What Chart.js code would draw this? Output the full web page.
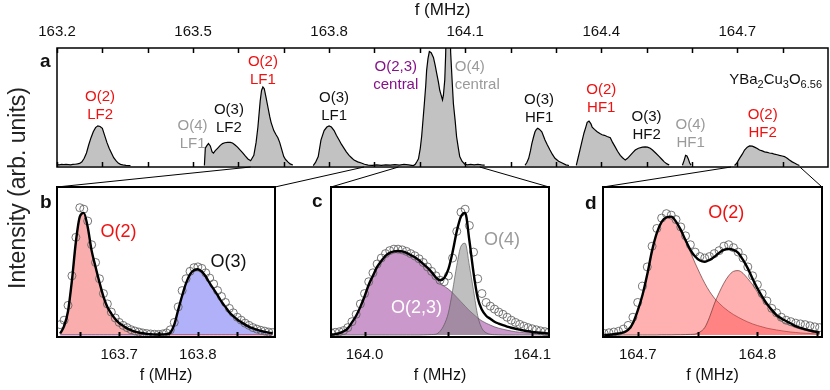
<!DOCTYPE html>
<html>
<head>
<meta charset="utf-8">
<script src="https://cdn.jsdelivr.net/npm/chart.js@4.4.1/dist/chart.umd.min.js"></script>
<style>
  html, body { margin: 0; padding: 0; background: #fff; }
  #wrap { position: relative; width: 830px; height: 390px; overflow: hidden; font-family: "Liberation Sans", Arial, sans-serif; color: #111; }
  #wrap canvas { position: absolute; }
  .ytitle { position: absolute; left: 17px; top: 188px; transform: translate(-50%, -50%) rotate(-90deg); font-size: 23px; white-space: nowrap; color: #222; }
  .letter { position: absolute; font-weight: bold; font-size: 19px; line-height: 19px; }
</style>
</head>
<body>
<div id="wrap">
  <canvas id="topChart" style="left:0;top:0" width="830" height="180"></canvas>
  <canvas id="bChart" style="left:0;top:180px" width="290" height="210"></canvas>
  <canvas id="cChart" style="left:290px;top:180px" width="290" height="210"></canvas>
  <canvas id="dChart" style="left:580px;top:180px" width="250" height="210"></canvas>
  <canvas id="links" style="left:0;top:0;pointer-events:none" width="830" height="390"></canvas>
  <div class="ytitle">Intensity (arb. units)</div>
  <div class="letter" style="left:40px;top:51px">a</div>
  <div class="letter" style="left:40px;top:192px">b</div>
  <div class="letter" style="left:312px;top:191px">c</div>
  <div class="letter" style="left:585px;top:193px">d</div>
</div>
<script>
// ---- data (f in MHz, intensity in arb. units) ----

// full spectrum, panel a (null = no data measured there)
const specF = [
  163.200, 163.205, 163.210, 163.215, 163.220, 163.225, 163.230, 163.235, 163.240, 163.245,
  163.250, 163.255, 163.260, 163.265, 163.270, 163.275, 163.280, 163.285, 163.290, 163.295,
  163.300, 163.305, 163.310, 163.315, 163.320, 163.325, 163.330, 163.335, 163.340, 163.345,
  163.352, 163.362, 163.440,
  163.525, 163.527, 163.530, 163.534, 163.538, 163.542, 163.545, 163.549, 163.554, 163.560,
  163.565, 163.570, 163.576, 163.582, 163.587, 163.592, 163.598, 163.604, 163.610, 163.615,
  163.621, 163.627, 163.634, 163.639, 163.643, 163.648, 163.651, 163.654, 163.657, 163.661,
  163.665, 163.669, 163.672, 163.678, 163.683, 163.687, 163.691, 163.694, 163.697, 163.700,
  163.704, 163.709, 163.714, 163.720, 163.740,
  163.765, 163.770, 163.776, 163.782, 163.789, 163.795, 163.800, 163.805, 163.811, 163.816,
  163.822, 163.827, 163.833, 163.838, 163.844, 163.850, 163.855, 163.863, 163.871, 163.878,
  163.886, 163.895, 163.905, 163.915, 163.925, 163.935, 163.945, 163.955, 163.965, 163.975,
  163.982, 163.986, 163.990, 163.994, 163.997, 164.001, 164.004, 164.007, 164.010, 164.013,
  164.015, 164.018, 164.021, 164.025, 164.030, 164.034, 164.037, 164.041, 164.044, 164.047,
  164.050, 164.052, 164.055, 164.057, 164.059, 164.063, 164.066, 164.068, 164.071, 164.074,
  164.078, 164.081, 164.085, 164.088, 164.093, 164.099, 164.105, 164.112, 164.120, 164.128,
  164.136, 164.143, 164.190,
  164.232, 164.236, 164.240, 164.244, 164.247, 164.251, 164.254, 164.257, 164.260, 164.264,
  164.269, 164.273, 164.276, 164.281, 164.287, 164.292, 164.298, 164.306, 164.314, 164.322,
  164.329, 164.336,
  164.345, 164.349, 164.353, 164.357, 164.362, 164.366, 164.369, 164.373, 164.377, 164.380,
  164.385, 164.391, 164.397, 164.402, 164.407, 164.413, 164.420, 164.425, 164.431, 164.436,
  164.442, 164.447, 164.453, 164.458, 164.464, 164.470, 164.475, 164.482, 164.491, 164.497,
  164.502, 164.508, 164.513, 164.520, 164.528, 164.534, 164.539, 164.545, 164.550, 164.565,
  164.579, 164.583, 164.586, 164.589, 164.592, 164.595, 164.598, 164.650,
  164.694, 164.699, 164.705, 164.711, 164.716, 164.722, 164.727, 164.733, 164.738, 164.744,
  164.749, 164.755, 164.760, 164.766, 164.771, 164.777, 164.782, 164.788, 164.793, 164.799,
  164.804, 164.810, 164.815, 164.821, 164.826, 164.832, 164.837
];
const specI = [
  0.012, 0.010, 0.014, 0.011, 0.013, 0.012, 0.010, 0.013, 0.015, 0.018,
  0.022, 0.035, 0.065, 0.110, 0.180, 0.240, 0.290, 0.325, 0.340, 0.335,
  0.320, 0.260, 0.200, 0.150, 0.110, 0.070, 0.045, 0.025, 0.014, 0.009,
  0.005, 0.003, null,
  0.005, 0.150, 0.170, 0.190, 0.170, 0.120, 0.110, 0.130, 0.150, 0.175,
  0.190, 0.197, 0.200, 0.200, 0.195, 0.180, 0.160, 0.135, 0.110, 0.085,
  0.060, 0.045, 0.090, 0.200, 0.330, 0.550, 0.640, 0.670, 0.655, 0.580,
  0.500, 0.420, 0.370, 0.300, 0.265, 0.240, 0.200, 0.160, 0.120, 0.080,
  0.055, 0.035, 0.018, 0.008, null,
  0.004, 0.030, 0.080, 0.220, 0.300, 0.330, 0.340, 0.330, 0.300, 0.260,
  0.220, 0.185, 0.150, 0.120, 0.090, 0.068, 0.050, 0.035, 0.025, 0.015,
  0.008, 0.006, 0.009, 0.006, 0.010, 0.007, 0.012, 0.008, 0.014, 0.010,
  0.006, 0.004, 0.015, 0.040, 0.060, 0.150, 0.250, 0.390, 0.530, 0.680,
  0.810, 0.910, 0.970, 0.960, 0.920, 0.850, 0.790, 0.710, 0.640, 0.600,
  0.560, 0.600, 0.730, 0.950, 1.300, 1.400, 1.300, 0.960, 0.740, 0.530,
  0.380, 0.250, 0.150, 0.080, 0.040, 0.015, 0.010, 0.014, 0.009, 0.013,
  0.010, 0.008, null,
  0.006, 0.030, 0.065, 0.130, 0.190, 0.250, 0.290, 0.310, 0.320, 0.310,
  0.290, 0.250, 0.220, 0.180, 0.135, 0.100, 0.065, 0.040, 0.025, 0.010,
  0.004, null,
  0.005, 0.070, 0.135, 0.200, 0.280, 0.330, 0.370, 0.380, 0.360, 0.330,
  0.310, 0.290, 0.275, 0.265, 0.260, 0.250, 0.240, 0.200, 0.160, 0.125,
  0.090, 0.070, 0.050, 0.065, 0.090, 0.115, 0.135, 0.150, 0.160, 0.162,
  0.160, 0.150, 0.135, 0.110, 0.080, 0.055, 0.035, 0.018, 0.008, null,
  0.006, 0.050, 0.090, 0.085, 0.060, 0.025, 0.008, null,
  0.004, 0.025, 0.065, 0.100, 0.135, 0.160, 0.170, 0.168, 0.160, 0.148,
  0.135, 0.128, 0.120, 0.115, 0.110, 0.107, 0.100, 0.095, 0.090, 0.085,
  0.080, 0.065, 0.050, 0.035, 0.025, 0.012, 0.004
];

// panel b: O(2) LF1 and O(3) LF1
const bFreq = [
  163.625, 163.630, 163.635, 163.640, 163.645, 163.650, 163.655, 163.660, 163.665, 163.670,
  163.675, 163.680, 163.685, 163.690, 163.695, 163.700, 163.705, 163.710, 163.715, 163.720,
  163.725, 163.730, 163.735, 163.740, 163.745, 163.750, 163.755, 163.760, 163.765, 163.770,
  163.775, 163.780, 163.785, 163.790, 163.795, 163.800, 163.805, 163.810, 163.815, 163.820,
  163.825, 163.830, 163.835, 163.840, 163.845, 163.850, 163.855, 163.860, 163.865, 163.870,
  163.875, 163.880, 163.885, 163.890, 163.895
];
const bData = [
  0.070, 0.100, 0.200, 0.400, 0.660, 0.860, 0.850, 0.770, 0.610, 0.490,
  0.380, 0.280, 0.210, 0.155, 0.115, 0.085, 0.065, 0.050, 0.036, 0.027,
  0.020, 0.014, 0.010, 0.007, 0.005, 0.004, 0.007, 0.014, 0.035, 0.085,
  0.190, 0.300, 0.380, 0.430, 0.455, 0.460, 0.450, 0.420, 0.385, 0.345,
  0.300, 0.260, 0.220, 0.180, 0.150, 0.120, 0.100, 0.080, 0.065, 0.050,
  0.040, 0.032, 0.026, 0.020, 0.017
];
const bFit = [
  0.010, 0.060, 0.160, 0.370, 0.630, 0.800, 0.825, 0.730, 0.570, 0.460,
  0.355, 0.260, 0.190, 0.145, 0.108, 0.080, 0.062, 0.045, 0.033, 0.023,
  0.017, 0.012, 0.008, 0.005, 0.004, 0.003, 0.004, 0.005, 0.016, 0.070,
  0.170, 0.265, 0.350, 0.410, 0.437, 0.444, 0.428, 0.395, 0.350, 0.310,
  0.270, 0.225, 0.190, 0.153, 0.127, 0.105, 0.087, 0.070, 0.055, 0.044,
  0.036, 0.028, 0.021, 0.016, 0.012
];
const bO2 = [
  0.010, 0.060, 0.160, 0.370, 0.630, 0.800, 0.825, 0.730, 0.570, 0.460,
  0.355, 0.260, 0.190, 0.145, 0.108, 0.080, 0.062, 0.045, 0.033, 0.023,
  0.017, 0.012, 0.008, 0.005, 0.003, 0.002, 0.002, 0.001, 0.001, 0.001,
  0.001, 0.001, 0.001, 0.001, 0.001, 0.001, 0.001, 0.001, 0.001, 0.001,
  0.001, 0.001, 0.001, 0.001, 0.001, 0.001, 0.001, 0.001, 0.001, 0.001,
  0.001, 0.001, 0.001, 0.001, 0.001
];
const bO3 = [
  0.001, 0.001, 0.001, 0.001, 0.001, 0.001, 0.001, 0.001, 0.001, 0.001,
  0.001, 0.001, 0.001, 0.001, 0.001, 0.001, 0.001, 0.001, 0.001, 0.001,
  0.001, 0.001, 0.001, 0.001, 0.001, 0.001, 0.002, 0.004, 0.015, 0.070,
  0.170, 0.265, 0.350, 0.410, 0.437, 0.444, 0.428, 0.395, 0.350, 0.310,
  0.270, 0.225, 0.190, 0.153, 0.127, 0.105, 0.087, 0.070, 0.055, 0.044,
  0.036, 0.028, 0.021, 0.016, 0.012
];

// panel c: O(2,3) central and O(4) central
const cFreq = [
  163.9800, 163.9825, 163.9850, 163.9875, 163.9900, 163.9925, 163.9950, 163.9975, 164.0000, 164.0025,
  164.0050, 164.0075, 164.0100, 164.0125, 164.0150, 164.0175, 164.0200, 164.0225, 164.0250, 164.0275,
  164.0300, 164.0325, 164.0350, 164.0375, 164.0400, 164.0425, 164.0450, 164.0475, 164.0500, 164.0525,
  164.0550, 164.0575, 164.0600, 164.0625, 164.0650, 164.0675, 164.0700, 164.0725, 164.0750, 164.0775,
  164.0800, 164.0825, 164.0850, 164.0875, 164.0900, 164.0925, 164.0950, 164.0975, 164.1000, 164.1025,
  164.1050, 164.1075, 164.1100
];
const cData = [
  0.015, 0.018, 0.022, 0.030, 0.050, 0.090, 0.140, 0.210, 0.280, 0.360,
  0.420, 0.480, 0.520, 0.550, 0.570, 0.580, 0.580, 0.575, 0.565, 0.550,
  0.535, 0.515, 0.490, 0.460, 0.430, 0.400, 0.370, 0.360, 0.400, 0.520,
  0.700, 0.830, 0.850, 0.740, 0.560, 0.380, 0.280, 0.220, 0.195, 0.175,
  0.155, 0.140, 0.120, 0.100, 0.085, 0.072, 0.060, 0.050, 0.042, 0.035,
  0.028, 0.023, 0.020
];
const cFit = [
  0.002, 0.006, 0.012, 0.025, 0.045, 0.085, 0.130, 0.190, 0.260, 0.340,
  0.400, 0.460, 0.500, 0.535, 0.555, 0.565, 0.568, 0.565, 0.555, 0.540,
  0.525, 0.505, 0.480, 0.455, 0.425, 0.390, 0.370, 0.385, 0.445, 0.560,
  0.700, 0.800, 0.825, 0.640, 0.420, 0.250, 0.170, 0.130, 0.110, 0.090,
  0.077, 0.066, 0.057, 0.049, 0.042, 0.036, 0.030, 0.025, 0.021, 0.018,
  0.015, 0.013, 0.011
];
const cO23 = [
  0.002, 0.006, 0.012, 0.025, 0.045, 0.085, 0.130, 0.190, 0.260, 0.340,
  0.400, 0.460, 0.500, 0.535, 0.555, 0.565, 0.567, 0.564, 0.554, 0.539,
  0.523, 0.503, 0.478, 0.450, 0.420, 0.385, 0.350, 0.330, 0.310, 0.285,
  0.255, 0.225, 0.195, 0.165, 0.140, 0.115, 0.095, 0.080, 0.067, 0.055,
  0.046, 0.039, 0.033, 0.027, 0.022, 0.019, 0.016, 0.014, 0.012, 0.010,
  0.009, 0.008, 0.007
];
const cO4 = [
  0, 0, 0, 0, 0, 0, 0, 0, 0, 0,
  0, 0, 0, 0, 0, 0, 0, 0, 0, 0,
  0, 0, 0.001, 0.002, 0.003, 0.005, 0.025, 0.070, 0.150, 0.300,
  0.470, 0.600, 0.620, 0.470, 0.300, 0.130, 0.045, 0.015, 0.005, 0.002,
  0.001, 0, 0, 0, 0, 0, 0, 0, 0, 0,
  0, 0, 0
];

// panel d: O(2) HF2, two components
const dFreq = [
  164.672, 164.676, 164.680, 164.684, 164.688, 164.692, 164.696, 164.700, 164.704, 164.708,
  164.712, 164.716, 164.720, 164.724, 164.728, 164.732, 164.736, 164.740, 164.744, 164.748,
  164.752, 164.756, 164.760, 164.764, 164.768, 164.772, 164.776, 164.780, 164.784, 164.788,
  164.792, 164.796, 164.800, 164.804, 164.808, 164.812, 164.816, 164.820, 164.824, 164.828,
  164.832, 164.836, 164.840, 164.844, 164.848, 164.852
];
const dData = [
  0.010, 0.015, 0.020, 0.025, 0.040, 0.065, 0.120, 0.220, 0.330, 0.460,
  0.600, 0.720, 0.790, 0.820, 0.810, 0.780, 0.730, 0.670, 0.610, 0.560,
  0.530, 0.520, 0.530, 0.550, 0.570, 0.600, 0.610, 0.590, 0.560, 0.520,
  0.460, 0.400, 0.340, 0.280, 0.230, 0.180, 0.150, 0.120, 0.100, 0.090,
  0.080, 0.075, 0.070, 0.062, 0.055, 0.050
];
const dFit = [
  0.000, 0.002, 0.005, 0.010, 0.018, 0.035, 0.080, 0.165, 0.270, 0.410,
  0.570, 0.690, 0.765, 0.795, 0.800, 0.766, 0.710, 0.640, 0.575, 0.530,
  0.503, 0.495, 0.507, 0.528, 0.555, 0.575, 0.581, 0.575, 0.555, 0.507,
  0.450, 0.380, 0.315, 0.260, 0.210, 0.170, 0.135, 0.112, 0.094, 0.078,
  0.060, 0.048, 0.038, 0.030, 0.023, 0.018
];
const dPeak1 = [
  0.000, 0.002, 0.005, 0.010, 0.018, 0.035, 0.080, 0.165, 0.270, 0.410,
  0.570, 0.690, 0.765, 0.793, 0.797, 0.762, 0.705, 0.635, 0.560, 0.485,
  0.415, 0.350, 0.295, 0.250, 0.215, 0.185, 0.160, 0.138, 0.120, 0.103,
  0.088, 0.075, 0.064, 0.055, 0.046, 0.040, 0.034, 0.029, 0.024, 0.020,
  0.017, 0.014, 0.012, 0.010, 0.008, 0.007
];
const dPeak2 = [
  0, 0, 0, 0, 0, 0, 0, 0, 0, 0,
  0, 0, 0.001, 0.001, 0.001, 0.002, 0.002, 0.003, 0.004, 0.006,
  0.020, 0.050, 0.120, 0.210, 0.285, 0.350, 0.400, 0.430, 0.435, 0.417,
  0.380, 0.340, 0.290, 0.240, 0.200, 0.160, 0.125, 0.095, 0.078, 0.063,
  0.050, 0.040, 0.032, 0.024, 0.017, 0.012
];

// ticks (value, label)
const topTickValues = [163.2, 163.3, 163.4, 163.5, 163.6, 163.7, 163.8, 163.9, 164.0, 164.1, 164.2, 164.3, 164.4, 164.5, 164.6, 164.7, 164.8];
const topTickLabels = ['163.2', '', '', '163.5', '', '', '163.8', '', '', '164.1', '', '', '164.4', '', '', '164.7', ''];
const bTickValues = [163.65, 163.7, 163.75, 163.8, 163.85];
const bTickLabels = ['', '163.7', '', '163.8', ''];
const cTickValues = [164.0, 164.05, 164.1];
const cTickLabels = ['164.0', '', '164.1'];
const dTickValues = [164.7, 164.75, 164.8, 164.85];
const dTickLabels = ['164.7', '', '164.8', ''];

// frequency windows of panels b, c, d as marked on the axis of panel a
const zoomWindows = [[163.627, 163.877], [163.953, 164.132], [164.686, 164.838]];

const RED = '#f01010', GREY = '#9a9a9a', PURPLE = '#85128a', BLACK = '#111';

const topNotes = [
  { text: 'O(2)\nLF2', f: 163.295, i: 0.585, color: RED },
  { text: 'O(4)\nLF1', f: 163.499, i: 0.339, color: GREY },
  { text: 'O(3)\nLF2', f: 163.579, i: 0.475, color: BLACK },
  { text: 'O(2)\nLF1', f: 163.654, i: 0.881, color: RED },
  { text: 'O(3)\nLF1', f: 163.811, i: 0.576, color: BLACK },
  { text: 'O(2,3)\ncentral', f: 163.947, i: 0.839, color: PURPLE },
  { text: 'O(4)\ncentral', f: 164.077, i: 0.839, color: GREY, align: 'left' },
  { text: 'O(3)\nHF1', f: 164.263, i: 0.559, color: BLACK },
  { text: 'O(2)\nHF1', f: 164.400, i: 0.644, color: RED },
  { text: 'O(3)\nHF2', f: 164.500, i: 0.415, color: BLACK },
  { text: 'O(4)\nHF1', f: 164.597, i: 0.347, color: GREY },
  { text: 'O(2)\nHF2', f: 164.756, i: 0.432, color: RED }
];
// chemical formula, split into normal / subscript runs
const formula = [['YBa', false], ['2', true], ['Cu', false], ['3', true], ['O', false], ['6.56', true]];

Chart.defaults.font.family = "'Liberation Sans', Arial, sans-serif";
Chart.defaults.color = BLACK;

const pts = (xs, ys) => xs.map((x, k) => ({ x: x, y: ys[k] }));

// box round the plot area, with ticks pointing inwards
const framePlugin = {
  id: 'frame',
  afterDatasetsDraw(chart, args, opts) {
    const { ctx, chartArea: a, scales: { x } } = chart;
    ctx.save();
    ctx.strokeStyle = '#000';
    ctx.lineWidth = opts.width;
    ctx.strokeRect(a.left, a.top, a.right - a.left, a.bottom - a.top);
    ctx.beginPath();
    x.ticks.forEach(t => {
      const px = Math.round(x.getPixelForValue(t.value)) + 0.5;
      ctx.moveTo(px, a.bottom);
      ctx.lineTo(px, a.bottom - opts.tick);
      if (opts.both) {
        ctx.moveTo(px, a.top);
        ctx.lineTo(px, a.top + opts.tick);
      }
    });
    ctx.stroke();
    ctx.restore();
  }
};

// peak labels placed in data coordinates
const notesPlugin = {
  id: 'notes',
  afterDatasetsDraw(chart, args, opts) {
    const { ctx, scales: { x, y } } = chart;
    ctx.save();
    ctx.font = opts.size + "px 'Liberation Sans', Arial, sans-serif";
    ctx.textBaseline = 'middle';
    (opts.items || []).forEach(n => {
      ctx.fillStyle = n.color;
      ctx.textAlign = n.align || 'center';
      n.text.split('\n').forEach((line, k) => {
        ctx.fillText(line, x.getPixelForValue(n.f), y.getPixelForValue(n.i) + k * opts.lineHeight);
      });
    });
    if (opts.formula) {
      const runs = opts.formula;
      const fontOf = sub => (sub ? 11 : 15) + "px 'Liberation Sans', Arial, sans-serif";
      let w = 0;
      runs.forEach(r => { ctx.font = fontOf(r[1]); w += ctx.measureText(r[0]).width; });
      let px = chart.chartArea.right - 6 - w;
      const py = y.getPixelForValue(opts.formulaAt);
      ctx.fillStyle = BLACK;
      ctx.textAlign = 'left';
      runs.forEach(r => {
        ctx.font = fontOf(r[1]);
        ctx.fillText(r[0], px, py + (r[1] ? 5 : 0));
        px += ctx.measureText(r[0]).width;
      });
    }
    ctx.restore();
  }
};

function xAxis(min, max, values, labels, position, height, pad, titleSize, titlePad) {
  return {
    type: 'linear', position: position, min: min, max: max,
    afterBuildTicks: s => { s.ticks = values.map(v => ({ value: v })); },
    afterFit: s => { s.height = height; },
    grid: { display: false, drawTicks: false },
    border: { display: false },
    ticks: {
      autoSkip: false, maxRotation: 0, padding: pad, color: BLACK, font: { size: 15 },
      callback: (v, k) => labels[k]
    },
    title: { display: true, text: 'f (MHz)', color: BLACK, font: { size: titleSize }, padding: titlePad }
  };
}

const topChart = new Chart(document.getElementById('topChart'), {
  type: 'line',
  data: {
    datasets: [{
      data: pts(specF, specI),
      fill: 'origin',
      backgroundColor: '#c2c2c2',
      borderColor: '#000',
      borderWidth: 1.2,
      pointRadius: 0,
      tension: 0,
      spanGaps: false
    }]
  },
  options: {
    responsive: false, animation: false, events: [],
    layout: { padding: { left: 57, right: 2, top: 0, bottom: 13 } },
    plugins: {
      legend: { display: false }, tooltip: { enabled: false },
      frame: { width: 1.5, tick: 5, both: true },
      notes: { size: 15, lineHeight: 18, items: topNotes, formula: formula, formulaAt: 0.73 }
    },
    scales: {
      x: xAxis(163.2, 164.9, topTickValues, topTickLabels, 'top', 48, 7, 17, { top: 0, bottom: 0 }),
      y: { display: false, min: -0.0085, max: 1.0 }
    }
  },
  plugins: [framePlugin, notesPlugin]
});

function zoomPanel(id, range, padL, padR, ticks, freq, data, fit, comps, notes) {
  const sets = [
    { data: pts(freq, fit), borderColor: '#000', borderWidth: 2.4, pointRadius: 0, fill: false, cubicInterpolationMode: 'monotone' },
    { data: pts(freq, data), showLine: false, pointRadius: 4, pointBorderWidth: 1,
      pointBorderColor: 'rgba(95,95,95,0.85)', pointBackgroundColor: 'rgba(0,0,0,0)' }
  ];
  comps.forEach(c => sets.push({
    data: pts(freq, c.values), fill: 'origin', backgroundColor: c.fill, borderColor: c.line,
    borderWidth: 0.8, pointRadius: 0, cubicInterpolationMode: 'monotone'
  }));
  return new Chart(document.getElementById(id), {
    type: 'line',
    data: { datasets: sets },
    options: {
      responsive: false, animation: false, events: [],
      layout: { padding: { left: padL, right: padR, top: 7, bottom: 0 } },
      plugins: {
        legend: { display: false }, tooltip: { enabled: false },
        frame: { width: 2, tick: 5, both: false },
        notes: { size: 18, lineHeight: 20, items: notes }
      },
      scales: {
        x: xAxis(range[0], range[1], ticks[0], ticks[1], 'bottom', 53, 9, 16, { top: 0, bottom: 5 }),
        y: { display: false, min: -0.0135, max: 1.0 }
      }
    },
    plugins: [framePlugin, notesPlugin]
  });
}

const bChart = zoomPanel('bChart', [163.621, 163.898], 57, 15, [bTickValues, bTickLabels],
  bFreq, bData, bFit,
  [{ values: bO2, fill: 'rgba(240,60,60,0.42)', line: 'rgba(170,30,60,0.9)' },
   { values: bO3, fill: 'rgba(70,70,240,0.42)', line: 'rgba(40,40,140,0.9)' }],
  [{ text: 'O(2)', f: 163.699, i: 0.696, color: RED },
   { text: 'O(3)', f: 163.839, i: 0.495, color: BLACK }]);

const cChart = zoomPanel('cChart', [163.980, 164.110], 41, 31, [cTickValues, cTickLabels],
  cFreq, cData, cFit,
  [{ values: cO4, fill: 'rgba(128,128,128,0.5)', line: 'rgba(80,80,80,0.8)' },
   { values: cO23, fill: 'rgba(150,50,150,0.5)', line: 'rgba(80,60,80,0.8)' }],
  [{ text: 'O(4)', f: 164.082, i: 0.64, color: GREY },
   { text: 'O(2,3)', f: 164.031, i: 0.18, color: '#fff' }]);

const dChart = zoomPanel('dChart', [164.671, 164.854], 23, 8, [dTickValues, dTickLabels],
  dFreq, dData, dFit,
  [{ values: dPeak2, fill: 'rgba(255,70,70,0.42)', line: 'rgba(90,40,40,0.8)' },
   { values: dPeak1, fill: 'rgba(255,70,70,0.42)', line: 'rgba(90,40,40,0.8)' }],
  [{ text: 'O(2)', f: 164.774, i: 0.822, color: RED }]);

// lines joining each zoom window on panel a to its panel
const lctx = document.getElementById('links').getContext('2d');
lctx.strokeStyle = '#000';
lctx.lineWidth = 1;
[bChart, cChart, dChart].forEach((ch, k) => {
  const ox = ch.canvas.offsetLeft, oy = ch.canvas.offsetTop;
  const a = ch.chartArea;
  const yTop = topChart.chartArea.bottom;
  const x0 = topChart.scales.x.getPixelForValue(zoomWindows[k][0]);
  const x1 = topChart.scales.x.getPixelForValue(zoomWindows[k][1]);
  lctx.beginPath();
  lctx.moveTo(x0, yTop); lctx.lineTo(ox + a.left, oy + a.top);
  lctx.moveTo(x1, yTop); lctx.lineTo(ox + a.right, oy + a.top);
  lctx.stroke();
});
</script>
</body>
</html>
